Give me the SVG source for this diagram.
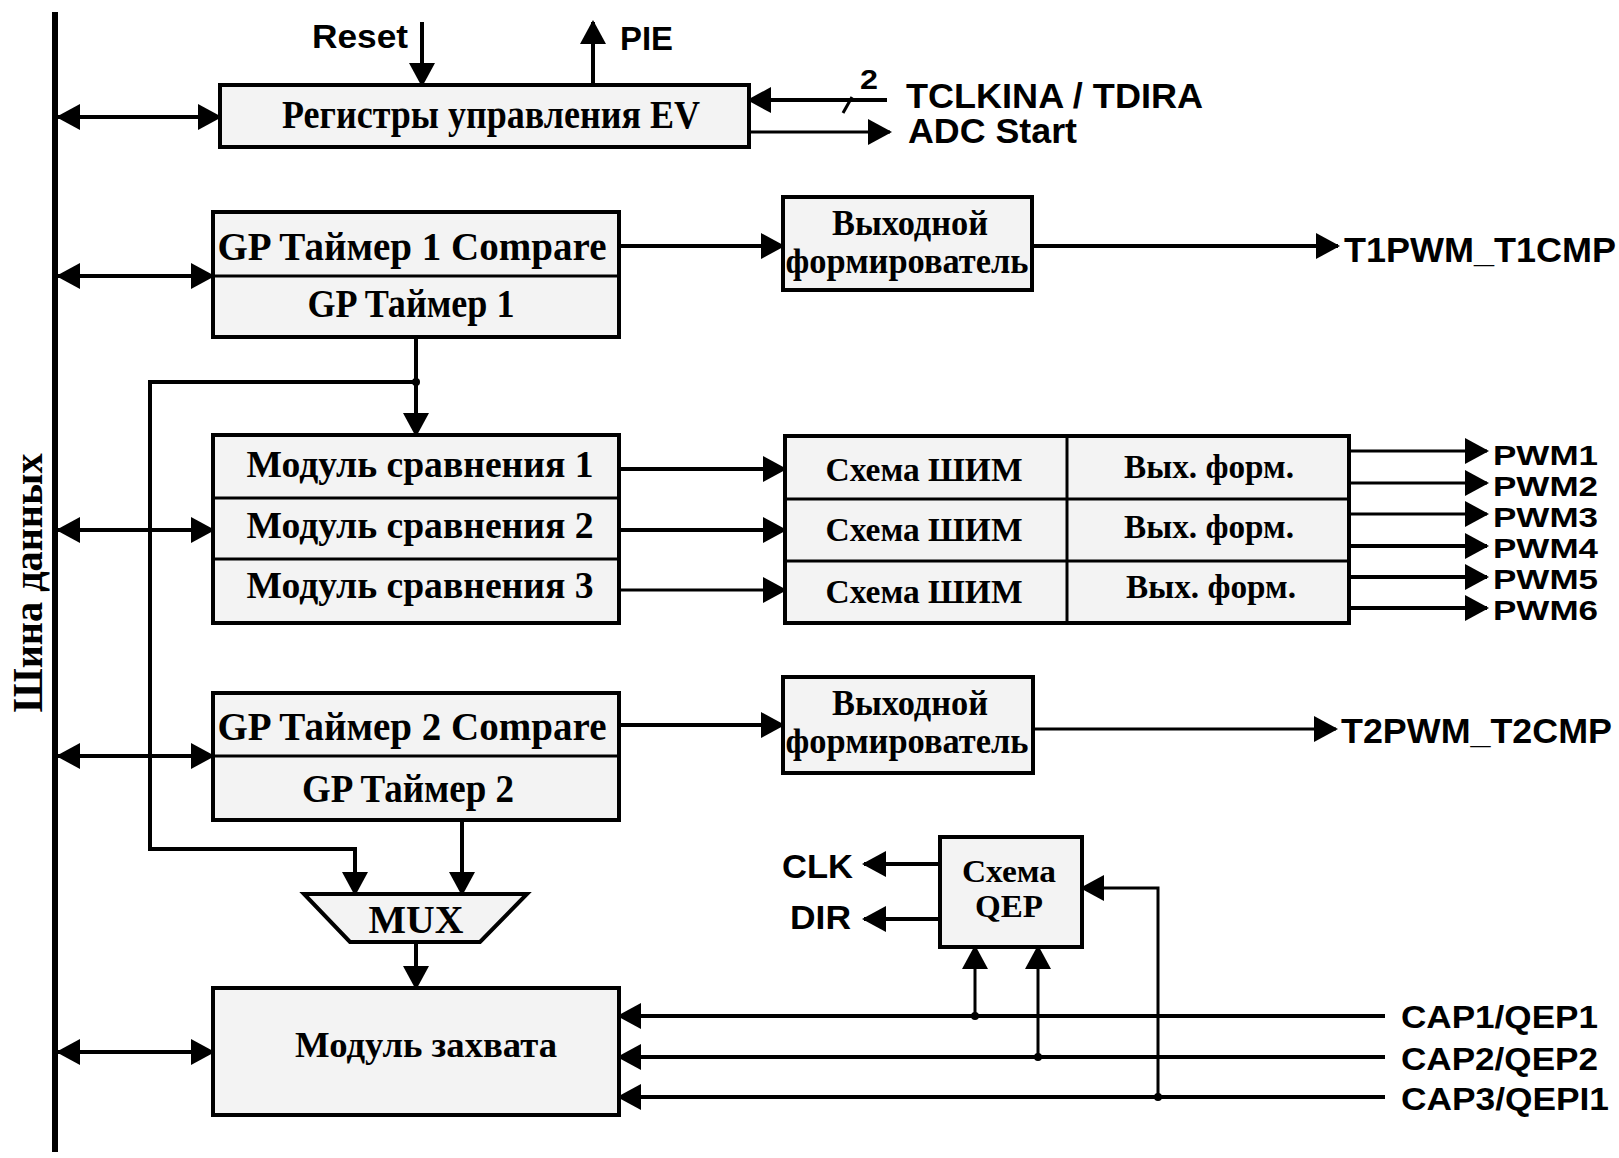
<svg xmlns="http://www.w3.org/2000/svg" width="1619" height="1158" viewBox="0 0 1619 1158">
<style>
.box{fill:#f3f3f3;stroke:#000;stroke-width:4}
.div{fill:none;stroke:#000;stroke-width:3}
.ser{font-family:"Liberation Serif","Times New Roman",serif;font-weight:bold;fill:#000}
.san{font-family:"Liberation Sans",Arial,sans-serif;font-weight:bold;fill:#000}
.w{fill:none;stroke:#000;stroke-width:4;stroke-linejoin:miter}
.t{fill:none;stroke:#000;stroke-width:3}
.a{marker-end:url(#ah)}
.b{marker-start:url(#ah);marker-end:url(#ah)}
.dot{fill:#000}
</style>
<defs>
<marker id="ah" markerUnits="userSpaceOnUse" markerWidth="24" markerHeight="26" refX="22" refY="13" orient="auto-start-reverse" viewBox="0 0 24 26">
<path d="M0,0 L24,13 L0,26 z" fill="#000"/>
</marker>
</defs>
<rect width="1619" height="1158" fill="#fff"/>

<g id="bus">
<line x1="55" y1="12" x2="55" y2="1152" stroke="#000" stroke-width="6"/>
<text class="ser" font-size="42" text-anchor="middle" transform="translate(42,583) rotate(-90)" textLength="259" lengthAdjust="spacingAndGlyphs">Шина данных</text>
</g>

<g id="ev-registers">
<rect class="box" x="220" y="85" width="529" height="62"/>
<text class="ser" x="491" y="128" font-size="40" text-anchor="middle" textLength="418" lengthAdjust="spacingAndGlyphs">Регистры управления EV</text>
</g>

<g id="gp-timer1">
<rect class="box" x="213" y="212" width="406" height="125"/>
<line class="div" x1="213" y1="276" x2="619" y2="276"/>
<text class="ser" x="412" y="260" font-size="40" text-anchor="middle" textLength="389" lengthAdjust="spacingAndGlyphs">GP Таймер 1 Compare</text>
<text class="ser" x="411" y="317" font-size="40" text-anchor="middle" textLength="207" lengthAdjust="spacingAndGlyphs">GP Таймер 1</text>
</g>

<g id="out-shaper1">
<rect class="box" x="783" y="197" width="249" height="93"/>
<text class="ser" x="910" y="235" font-size="35" text-anchor="middle" textLength="156" lengthAdjust="spacingAndGlyphs">Выходной</text>
<text class="ser" x="907" y="273" font-size="35" text-anchor="middle" textLength="243" lengthAdjust="spacingAndGlyphs">формирователь</text>
</g>

<g id="compare-modules">
<rect class="box" x="213" y="435" width="406" height="188"/>
<line class="div" x1="213" y1="498" x2="619" y2="498"/>
<line class="div" x1="213" y1="559" x2="619" y2="559"/>
<text class="ser" x="420" y="477" font-size="37" text-anchor="middle" textLength="347" lengthAdjust="spacingAndGlyphs">Модуль сравнения 1</text>
<text class="ser" x="420" y="538" font-size="37" text-anchor="middle" textLength="347" lengthAdjust="spacingAndGlyphs">Модуль сравнения 2</text>
<text class="ser" x="420" y="598" font-size="37" text-anchor="middle" textLength="347" lengthAdjust="spacingAndGlyphs">Модуль сравнения 3</text>
</g>

<g id="pwm-block">
<rect class="box" x="785" y="436" width="564" height="187"/>
<line class="div" x1="1067" y1="436" x2="1067" y2="623"/>
<line class="div" x1="785" y1="499" x2="1349" y2="499"/>
<line class="div" x1="785" y1="561" x2="1349" y2="561"/>
<text class="ser" x="924" y="481" font-size="33" text-anchor="middle" textLength="197" lengthAdjust="spacingAndGlyphs">Схема ШИМ</text>
<text class="ser" x="924" y="541" font-size="33" text-anchor="middle" textLength="197" lengthAdjust="spacingAndGlyphs">Схема ШИМ</text>
<text class="ser" x="924" y="603" font-size="33" text-anchor="middle" textLength="197" lengthAdjust="spacingAndGlyphs">Схема ШИМ</text>
<text class="ser" x="1209" y="478" font-size="33" text-anchor="middle" textLength="170" lengthAdjust="spacingAndGlyphs">Вых. форм.</text>
<text class="ser" x="1209" y="538" font-size="33" text-anchor="middle" textLength="170" lengthAdjust="spacingAndGlyphs">Вых. форм.</text>
<text class="ser" x="1211" y="598" font-size="33" text-anchor="middle" textLength="170" lengthAdjust="spacingAndGlyphs">Вых. форм.</text>
</g>

<g id="gp-timer2">
<rect class="box" x="213" y="693" width="406" height="127"/>
<line class="div" x1="213" y1="756" x2="619" y2="756"/>
<text class="ser" x="412" y="740" font-size="40" text-anchor="middle" textLength="389" lengthAdjust="spacingAndGlyphs">GP Таймер 2 Compare</text>
<text class="ser" x="408" y="802" font-size="40" text-anchor="middle" textLength="212" lengthAdjust="spacingAndGlyphs">GP Таймер 2</text>
</g>

<g id="out-shaper2">
<rect class="box" x="783" y="677" width="250" height="96"/>
<text class="ser" x="910" y="715" font-size="35" text-anchor="middle" textLength="156" lengthAdjust="spacingAndGlyphs">Выходной</text>
<text class="ser" x="907" y="753" font-size="35" text-anchor="middle" textLength="243" lengthAdjust="spacingAndGlyphs">формирователь</text>
</g>

<g id="mux">
<polygon class="box" points="304,894 527,894 480,942 350,942"/>
<text class="ser" x="416" y="933" font-size="39" text-anchor="middle" textLength="95" lengthAdjust="spacingAndGlyphs">MUX</text>
</g>

<g id="capture">
<rect class="box" x="213" y="988" width="406" height="127"/>
<text class="ser" x="426" y="1057" font-size="35" text-anchor="middle" textLength="262" lengthAdjust="spacingAndGlyphs">Модуль захвата</text>
</g>

<g id="qep">
<rect class="box" x="940" y="837" width="142" height="110"/>
<text class="ser" x="1009" y="882" font-size="31" text-anchor="middle" textLength="94" lengthAdjust="spacingAndGlyphs">Схема</text>
<text class="ser" x="1009" y="917" font-size="31" text-anchor="middle" textLength="68" lengthAdjust="spacingAndGlyphs">QEP</text>
</g>

<g id="labels">
<text class="san" x="408" y="48" font-size="33" text-anchor="end" textLength="96" lengthAdjust="spacingAndGlyphs">Reset</text>
<text class="san" x="620" y="50" font-size="33" textLength="53" lengthAdjust="spacingAndGlyphs">PIE</text>
<text class="san" x="860" y="89" font-size="27" textLength="18" lengthAdjust="spacingAndGlyphs">2</text>
<text class="san" x="906" y="108" font-size="35" textLength="297" lengthAdjust="spacingAndGlyphs">TCLKINA / TDIRA</text>
<text class="san" x="908" y="143" font-size="35" textLength="169" lengthAdjust="spacingAndGlyphs">ADC Start</text>
<text class="san" x="1344" y="262" font-size="35" textLength="272" lengthAdjust="spacingAndGlyphs">T1PWM_T1CMP</text>
<text class="san" x="1341" y="743" font-size="35" textLength="271" lengthAdjust="spacingAndGlyphs">T2PWM_T2CMP</text>
<text class="san" x="1493" y="465" font-size="28" textLength="105" lengthAdjust="spacingAndGlyphs">PWM1</text>
<text class="san" x="1493" y="496" font-size="28" textLength="105" lengthAdjust="spacingAndGlyphs">PWM2</text>
<text class="san" x="1493" y="527" font-size="28" textLength="105" lengthAdjust="spacingAndGlyphs">PWM3</text>
<text class="san" x="1493" y="558" font-size="28" textLength="105" lengthAdjust="spacingAndGlyphs">PWM4</text>
<text class="san" x="1493" y="589" font-size="28" textLength="105" lengthAdjust="spacingAndGlyphs">PWM5</text>
<text class="san" x="1493" y="620" font-size="28" textLength="105" lengthAdjust="spacingAndGlyphs">PWM6</text>
<text class="san" x="853" y="878" font-size="33" text-anchor="end" textLength="71" lengthAdjust="spacingAndGlyphs">CLK</text>
<text class="san" x="851" y="929" font-size="33" text-anchor="end" textLength="61" lengthAdjust="spacingAndGlyphs">DIR</text>
<text class="san" x="1401" y="1028" font-size="32" textLength="197" lengthAdjust="spacingAndGlyphs">CAP1/QEP1</text>
<text class="san" x="1401" y="1070" font-size="32" textLength="197" lengthAdjust="spacingAndGlyphs">CAP2/QEP2</text>
<text class="san" x="1401" y="1110" font-size="32" textLength="208" lengthAdjust="spacingAndGlyphs">CAP3/QEPI1</text>
</g>

<g id="connectors">
<line class="w b" x1="58" y1="117" x2="220" y2="117"/>
<line class="w b" x1="58" y1="276" x2="213" y2="276"/>
<line class="w b" x1="58" y1="530" x2="213" y2="530"/>
<line class="w b" x1="58" y1="756" x2="213" y2="756"/>
<line class="w b" x1="58" y1="1052" x2="213" y2="1052"/>
<line class="w a" x1="422" y1="22" x2="422" y2="85"/>
<line class="w a" x1="593" y1="85" x2="593" y2="22"/>
<line class="w a" x1="887" y1="100" x2="749" y2="100"/>
<line class="t" x1="843" y1="113" x2="852" y2="97" stroke-width="2"/>
<line class="t a" x1="749" y1="132" x2="890" y2="132"/>
<line class="w a" x1="619" y1="246" x2="783" y2="246"/>
<line class="w a" x1="1032" y1="246" x2="1338" y2="246"/>
<line class="w a" x1="416" y1="337" x2="416" y2="435"/>
<polyline class="w a" points="416,382 150,382 150,849 355,849 355,894"/>
<circle class="dot" cx="416" cy="382" r="4"/>
<line class="w a" x1="619" y1="469" x2="785" y2="469"/>
<line class="w a" x1="619" y1="530" x2="785" y2="530"/>
<line class="t a" x1="619" y1="590" x2="785" y2="590"/>
<line class="t a" x1="1349" y1="451" x2="1487" y2="451"/>
<line class="t a" x1="1349" y1="483" x2="1487" y2="483"/>
<line class="t a" x1="1349" y1="514" x2="1487" y2="514"/>
<line class="w a" x1="1349" y1="546" x2="1487" y2="546"/>
<line class="w a" x1="1349" y1="577" x2="1487" y2="577"/>
<line class="w a" x1="1349" y1="608" x2="1487" y2="608"/>
<line class="w a" x1="619" y1="725" x2="783" y2="725"/>
<line class="t a" x1="1033" y1="729" x2="1336" y2="729"/>
<line class="w a" x1="462" y1="820" x2="462" y2="894"/>
<line class="w a" x1="416" y1="942" x2="416" y2="988"/>
<line class="w a" x1="1385" y1="1016" x2="619" y2="1016"/>
<line class="w a" x1="1385" y1="1057" x2="619" y2="1057"/>
<line class="w a" x1="1385" y1="1097" x2="619" y2="1097"/>
<line class="t a" x1="975" y1="1016" x2="975" y2="947"/>
<line class="t a" x1="1038" y1="1057" x2="1038" y2="947"/>
<polyline class="t a" points="1158,1097 1158,888 1082,888"/>
<circle class="dot" cx="975" cy="1016" r="4"/>
<circle class="dot" cx="1038" cy="1057" r="4"/>
<circle class="dot" cx="1158" cy="1097" r="4"/>
<line class="w a" x1="940" y1="864" x2="864" y2="864"/>
<line class="w a" x1="940" y1="919" x2="864" y2="919"/>
</g>
</svg>
